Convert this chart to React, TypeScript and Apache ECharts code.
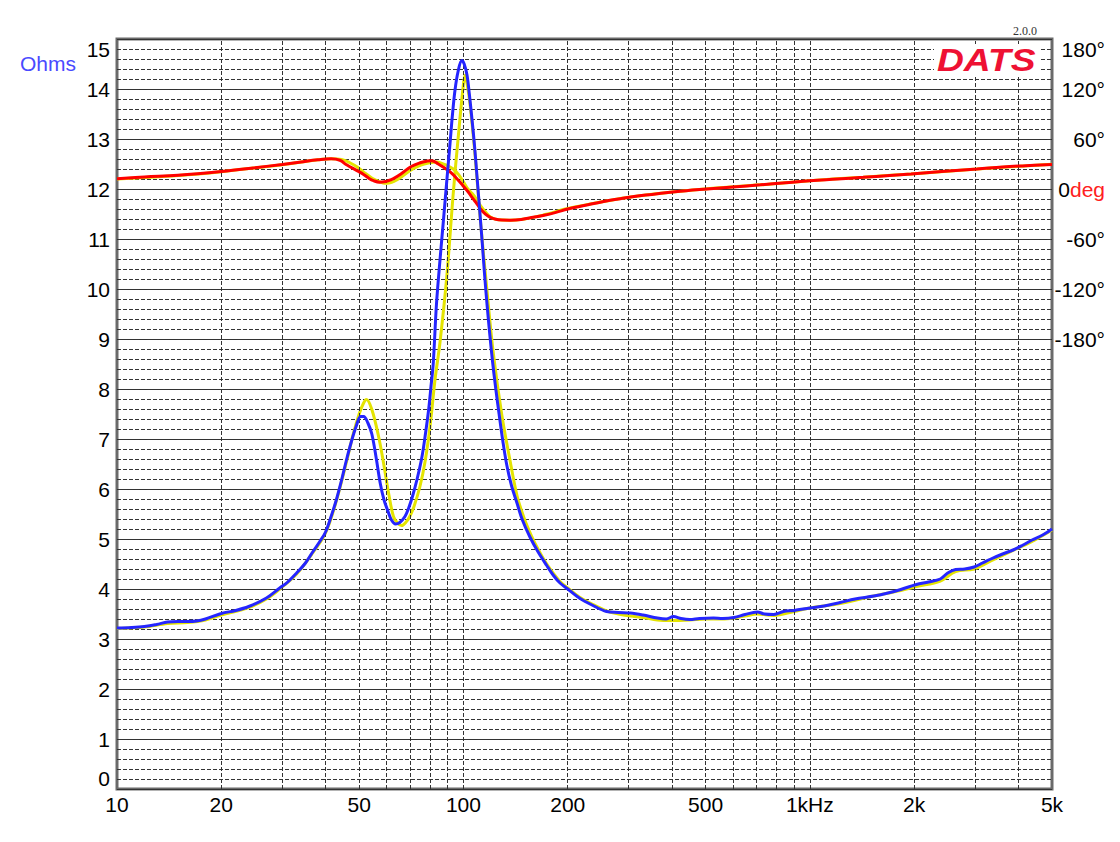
import React, { useEffect, useRef } from 'react';
import * as echarts from 'echarts';

const FONT = '"Liberation Sans", Arial, Helvetica, sans-serif';

// X axis labels and grid
const freqTickValues = [10, 20, 50, 100, 200, 500, 1000, 2000, 5000];
const freqTickText = ['10', '20', '50', '100', '200', '500', '1kHz', '2k', '5k'];
const minorFreqGrid = [20, 30, 40, 50, 60, 70, 80, 90, 200, 300, 400, 500, 600, 700, 800, 900, 2000, 3000, 4000];
const majorFreqGrid = [100, 1000];

// Blue impedance curve (Ohms)
const blueFreq = [
  10, 11, 12, 13, 14, 15, 16, 17, 18,
  20, 22, 24, 27, 29.5, 31, 33, 35, 36.8, 38.5,
  40, 41.5, 43, 44.5, 46, 47.5, 49, 50.5, 51.5, 53,
  54.4, 56, 57.5, 59, 60.6, 62, 63.7, 65.5, 67.8, 69.5,
  71.4, 73.5, 75.8, 77.5, 79.4, 80.6, 81.8, 83.6, 85.5, 87.5,
  89.5, 91.5, 93, 94.6, 96.5, 98.9, 100.5, 102.4, 104, 105.9,
  107.7, 109.5, 111.4, 113.3, 115.2, 117.2, 119.2, 121.3, 124, 126.8,
  130, 133.3, 137.5, 142.6, 148, 155.6, 164, 174, 182, 190,
  200, 216, 235, 259, 280, 303, 330, 363, 385, 404,
  425, 450, 480, 527, 560, 604, 650, 705, 740, 787,
  840, 900, 1000, 1100, 1223, 1350, 1530, 1680, 1830, 2030,
  2200, 2380, 2500, 2635, 2800, 2980, 3150, 3330, 3600, 3860,
  4100, 4380, 4700, 5000,
];
const blueOhms = [
  3.22, 3.23, 3.25, 3.29, 3.34, 3.35, 3.35, 3.36, 3.40,
  3.51, 3.57, 3.65, 3.82, 4.02, 4.13, 4.32, 4.52, 4.75, 4.95,
  5.14, 5.45, 5.79, 6.18, 6.59, 6.95, 7.25, 7.45, 7.45, 7.32,
  7.10, 6.62, 6.12, 5.78, 5.55, 5.38, 5.30, 5.33, 5.45, 5.62,
  5.87, 6.20, 6.62, 7.05, 7.60, 8.05, 8.50, 9.70, 10.55, 11.35,
  12.15, 12.92, 13.50, 13.99, 14.35, 14.57, 14.50, 14.28, 13.90, 13.38,
  12.85, 12.23, 11.58, 10.93, 10.25, 9.63, 9.08, 8.56, 8.00, 7.49,
  6.95, 6.49, 6.08, 5.73, 5.38, 5.04, 4.75, 4.47, 4.27, 4.12,
  4.00, 3.82, 3.68, 3.55, 3.53, 3.52, 3.48, 3.42, 3.40, 3.45,
  3.41, 3.39, 3.41, 3.42, 3.41, 3.43, 3.49, 3.54, 3.50, 3.49,
  3.55, 3.57, 3.62, 3.66, 3.73, 3.80, 3.86, 3.92, 3.99, 4.09,
  4.14, 4.20, 4.32, 4.39, 4.40, 4.44, 4.52, 4.60, 4.70, 4.78,
  4.87, 4.98, 5.08, 5.20,
];

// Yellow impedance curve (Ohms)
const yellowFreq = [
  10, 12, 14, 16, 18, 20, 24, 27, 29.5, 33,
  36.8, 40, 43, 46, 48, 50, 51.5, 52.5, 54.4, 56.9,
  58.8, 60.8, 62.8, 64.5, 66.3, 68.5, 70, 72, 74.9, 77.5,
  80.1, 82.8, 85.6, 89.5, 93.5, 96.7, 99.9, 101.1, 102.5, 104.5,
  108, 111.6, 116.8, 122, 129, 136.3, 143, 150, 157, 165,
  174, 190, 200, 216, 235, 259, 280, 303, 330, 363,
  400, 450, 500, 560, 604, 650, 705, 787, 900, 1000,
  1223, 1530, 1830, 2030, 2380, 2635, 2980, 3330, 3860, 4380,
  5000,
];
const yellowOhms = [
  3.21, 3.24, 3.31, 3.33, 3.38, 3.48, 3.63, 3.80, 4.00, 4.30,
  4.73, 5.12, 5.77, 6.55, 7.08, 7.50, 7.72, 7.79, 7.59, 7.05,
  6.52, 5.92, 5.45, 5.32, 5.27, 5.35, 5.45, 5.65, 6.05, 6.55,
  7.25, 8.19, 8.94, 10.24, 11.93, 13.07, 14.07, 14.28, 14.10, 13.69,
  12.69, 11.47, 10.01, 8.71, 7.49, 6.57, 5.85, 5.40, 5.07, 4.77,
  4.50, 4.15, 4.02, 3.84, 3.70, 3.56, 3.50, 3.46, 3.43, 3.38,
  3.37, 3.38, 3.40, 3.40, 3.42, 3.46, 3.50, 3.47, 3.55, 3.62,
  3.71, 3.86, 3.97, 4.05, 4.16, 4.35, 4.40, 4.56, 4.77, 4.95,
  5.18,
];

// Red phase curve (degrees)
const redPhaseFreq = [
  10, 12, 15, 20, 25, 30, 34, 38, 41.5, 44,
  46, 49.3, 51.5, 53.3, 55, 57.3, 59, 60.5, 62.8, 66,
  70.7, 75, 78.6, 81, 84.6, 88, 91.9, 95.5, 99.7, 103,
  106.3, 109.5, 112.5, 116, 119.5, 124, 129, 137, 147, 159,
  171, 185, 200, 225, 254, 280, 311, 350, 395, 440,
  505, 600, 720, 850, 1000, 1200, 1425, 1700, 1960, 2400,
  3040, 3600, 4200, 5000,
];
const redPhaseDeg = [
  12.4, 14.5, 16.5, 21, 25.5, 29.5, 32.5, 35, 36.2, 34.5,
  29, 22, 17.5, 13, 10, 8.2, 8.6, 9.8, 12.5, 18,
  27, 31.5, 33.5, 34, 30, 25.5, 20, 13, 4, -3,
  -11, -18, -25, -30.5, -34, -36.3, -37.3, -37.5, -36.5, -34,
  -31.5, -28, -24, -19.5, -15, -12, -9, -6.5, -4, -2,
  0, 2.5, 5, 7.5, 10, 12, 14, 16.2, 18, 21,
  24, 26.5, 28, 29.5,
];

// Yellow phase curve (degrees)
const yellowPhaseFreq = [
  10, 15, 20, 30, 38, 41.5, 44.5, 47, 49.5, 52,
  54.5, 57, 59, 61, 63, 66, 70, 75, 80, 83.7,
  87, 90, 93.5, 97, 100.5, 103, 106, 109, 112, 116,
  120, 126, 135, 150, 171, 200,
  254, 311, 395, 505, 720, 1000, 1425, 1960, 3040, 5000,
];
const yellowPhaseDeg = [
  12, 16.2, 20.8, 29.2, 35, 36.3, 35.5, 31.5, 26, 19,
  13, 9, 7, 7.3, 9, 14, 22, 28.5, 31.5, 32.3,
  30.5, 28, 24, 17, 7, 0, -5.5, -12, -20, -28,
  -34, -37, -37.5, -36, -31, -23.5,
  -15, -9, -4, 0.3, 5, 10, 14.2, 18, 24, 29.6,
];

const pairs = (xs: number[], ys: number[]) => xs.map((x, i) => [x, ys[i]]);

const freqLabel = (v: number) => {
  for (let i = 0; i < freqTickValues.length; i++) {
    if (Math.abs(freqTickValues[i] - v) / freqTickValues[i] < 0.01) return freqTickText[i];
  }
  return '';
};

const phaseLabel = (v: number) => {
  if (v < -180) return '';
  if (v === 0) return '0{d|deg}';
  return v + '°';
};

const gridLineStyle = { color: '#333', width: 1 };
const dashedGrid = { color: '#333', width: 1, type: [4, 2] as number[] };

export default function App() {
  const ref = useRef<HTMLDivElement>(null);
  useEffect(() => {
    const chart = echarts.init(ref.current!, null, { renderer: 'svg' });
    const option: any = {
      animation: false,
      backgroundColor: '#ffffff',
      grid: {
        left: 117, right: 68, top: 39, bottom: 53,
        show: true, borderColor: '#6a6a6a', borderWidth: 3, backgroundColor: 'transparent',
        containLabel: false, outerBoundsMode: 'none',
      },
      xAxis: {
        type: 'log', logBase: 10, min: 10, max: 5000,
        axisLine: { show: false }, axisTick: { show: false },
        splitLine: { show: false }, minorSplitLine: { show: false },
        axisLabel: {
          customValues: freqTickValues,
          formatter: (v: number) => freqLabel(v),
          color: '#000', fontSize: 21, fontFamily: FONT, margin: 5,
          showMinLabel: true, showMaxLabel: true, hideOverlap: false,
        },
      },
      yAxis: [
        {
          type: 'value', min: 0, max: 15, interval: 1, position: 'left',
          axisLine: { show: false }, axisTick: { show: false },
          axisLabel: {
            color: '#000', fontSize: 21, fontFamily: FONT, margin: 7,
            verticalAlignMaxLabel: 'top', verticalAlignMinLabel: 'bottom',
          },
          splitLine: { show: true, lineStyle: gridLineStyle },
          minorTick: { show: false, splitNumber: 5 },
          minorSplitLine: { show: true, lineStyle: dashedGrid },
        },
        {
          type: 'value', min: -720, max: 180, interval: 60, position: 'right',
          axisLine: { show: false }, axisTick: { show: false },
          splitLine: { show: false },
          axisLabel: {
            formatter: phaseLabel, align: 'right', margin: 53,
            color: '#000', fontSize: 21, fontFamily: FONT,
            verticalAlignMaxLabel: 'top',
            rich: { d: { color: '#ff2020', fontSize: 21, fontFamily: FONT } },
          },
        },
      ],
      graphic: [
        { type: 'text', x: 20, y: 63, style: { text: 'Ohms', fill: '#4a4aff', font: `21px ${FONT}`, verticalAlign: 'middle', align: 'left' } },
        { type: 'rect', shape: { x: 934, y: 44, width: 106, height: 32 }, style: { fill: '#fff' }, z: 10 },
        { type: 'text', x: 937, y: 60, scaleX: 1.2, z: 11, style: { text: 'DATS', fill: '#ee1133', font: `italic bold 31px ${FONT}`, verticalAlign: 'middle', align: 'left' } },
        { type: 'text', x: 1025, y: 31, style: { text: '2.0.0', fill: '#333', font: '12px "Liberation Serif", serif', verticalAlign: 'middle', align: 'center' } },
      ],
      series: [
        {
          type: 'line', name: 'grid', data: [], z: 1, silent: true,
          markLine: {
            silent: true, symbol: ['none', 'none'], animation: false,
            label: { show: false }, emphasis: { disabled: true },
            data: [
              ...minorFreqGrid.map((f) => ({ xAxis: f, lineStyle: dashedGrid })),
              ...majorFreqGrid.map((f) => ({ xAxis: f, lineStyle: gridLineStyle })),
            ],
          },
        },
        {
          type: 'line', name: 'Z2', data: pairs(yellowFreq, yellowOhms), yAxisIndex: 0,
          showSymbol: false, smooth: 0.35, z: 3,
          lineStyle: { color: '#e4e400', width: 3 },
        },
        {
          type: 'line', name: 'P2', data: pairs(yellowPhaseFreq, yellowPhaseDeg), yAxisIndex: 1,
          showSymbol: false, smooth: 0.35, z: 4,
          lineStyle: { color: '#e4e400', width: 3 },
        },
        {
          type: 'line', name: 'P1', data: pairs(redPhaseFreq, redPhaseDeg), yAxisIndex: 1,
          showSymbol: false, smooth: 0.4, z: 5,
          lineStyle: { color: '#ff0000', width: 3 },
        },
        {
          type: 'line', name: 'Z1', data: pairs(blueFreq, blueOhms), yAxisIndex: 0,
          showSymbol: false, smooth: 0.35, z: 6,
          lineStyle: { color: '#2525ff', width: 3 },
        },
      ],
    };
    chart.setOption(option);
    return () => chart.dispose();
  }, []);
  return (
    <div
      ref={ref}
      style={{ position: 'absolute', left: 0, top: 0, width: 1120, height: 842, background: '#fff' }}
    />
  );
}
